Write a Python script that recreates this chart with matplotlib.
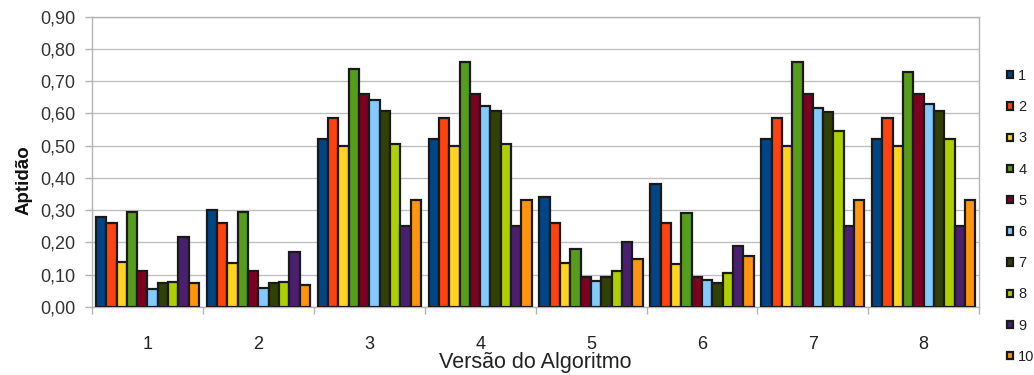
import matplotlib
matplotlib.use("Agg")
import matplotlib.pyplot as plt
import numpy as np
from matplotlib.ticker import MultipleLocator, FixedLocator, FuncFormatter

plt.rcParams['font.family'] = ['Liberation Sans', 'DejaVu Sans']

groups = ['1', '2', '3', '4', '5', '6', '7', '8']
series_names = ['1', '2', '3', '4', '5', '6', '7', '8', '9', '10']

s1 = [0.28, 0.30, 0.52, 0.52, 0.34, 0.38, 0.52, 0.52]
s2 = [0.26, 0.26, 0.585, 0.585, 0.26, 0.26, 0.585, 0.585]
s3 = [0.14, 0.135, 0.50, 0.50, 0.137, 0.133, 0.50, 0.50]
s4 = [0.293, 0.293, 0.738, 0.761, 0.179, 0.292, 0.761, 0.728]
s5 = [0.112, 0.112, 0.662, 0.662, 0.093, 0.093, 0.662, 0.662]
s6 = [0.055, 0.059, 0.641, 0.624, 0.079, 0.083, 0.618, 0.631]
s7 = [0.075, 0.075, 0.608, 0.608, 0.093, 0.075, 0.606, 0.608]
s8 = [0.078, 0.078, 0.506, 0.506, 0.112, 0.106, 0.546, 0.52]
s9 = [0.216, 0.169, 0.25, 0.25, 0.202, 0.19, 0.25, 0.25]
s10 = [0.073, 0.066, 0.331, 0.331, 0.148, 0.157, 0.331, 0.331]
series = [s1, s2, s3, s4, s5, s6, s7, s8, s9, s10]

colors = ['#004586', '#ff420e', '#ffd320', '#579d1c', '#7e0021',
          '#83caff', '#314004', '#aecf00', '#4b1f6f', '#ff950e']

fig = plt.figure(figsize=(10.34, 3.75), dpi=100)
ax = fig.add_axes([0.089, 0.182, 0.858, 0.773])

x = np.arange(1, len(groups) + 1)
n = len(series)
bw = 0.093
handles = []
for i, (vals, c, name) in enumerate(zip(series, colors, series_names)):
    off = (i - (n - 1) / 2) * bw
    b = ax.bar(x + off, vals, width=bw, color=c, edgecolor='#1a1a1a',
               linewidth=1.6, label=name, zorder=3)
    handles.append(b)

ax.set_xlim(0.5, len(groups) + 0.5)
ax.set_ylim(0, 0.9)
ax.yaxis.set_major_locator(MultipleLocator(0.1))
ax.yaxis.set_major_formatter(FuncFormatter(lambda v, p: f"{v:.2f}".replace('.', ',')))
ax.set_xticks(x)
ax.set_xticklabels(groups)
ax.xaxis.set_minor_locator(FixedLocator(np.arange(0.5, len(groups) + 1, 1)))
ax.tick_params(axis='x', which='major', length=0, pad=21, labelsize=13, labelcolor='#222222')
ax.tick_params(axis='x', which='minor', length=5, color='#b3b3b3', width=1)
ax.tick_params(axis='y', which='major', length=5, color='#b3b3b3', width=1,
               labelsize=13, labelcolor='#333333', pad=7)
ax.grid(axis='y', color='#c0c0c0', linewidth=1, zorder=0)
for s in ax.spines.values():
    s.set_color('#b3b3b3')
    s.set_linewidth(1)

ax.set_ylabel('Aptidão', fontsize=13.5, fontweight='bold', color='#111111')
ax.yaxis.set_label_coords(-0.0676, 0.437)
ax.set_xlabel('Versão do Algoritmo', fontsize=15.5, labelpad=-1, color='#222222')

leg = fig.legend(handles=handles, loc='upper left', bbox_to_anchor=(0.9736, 0.816),
                 frameon=False, fontsize=10.5, handlelength=0.4, handleheight=0.4,
                 handletextpad=0.4, labelspacing=1.18, borderaxespad=0, borderpad=0)
for t in leg.get_texts():
    t.set_color('#222222')
for h in leg.legend_handles:
    h.set_linewidth(1.6)

fig.savefig('out.png', dpi=100)
